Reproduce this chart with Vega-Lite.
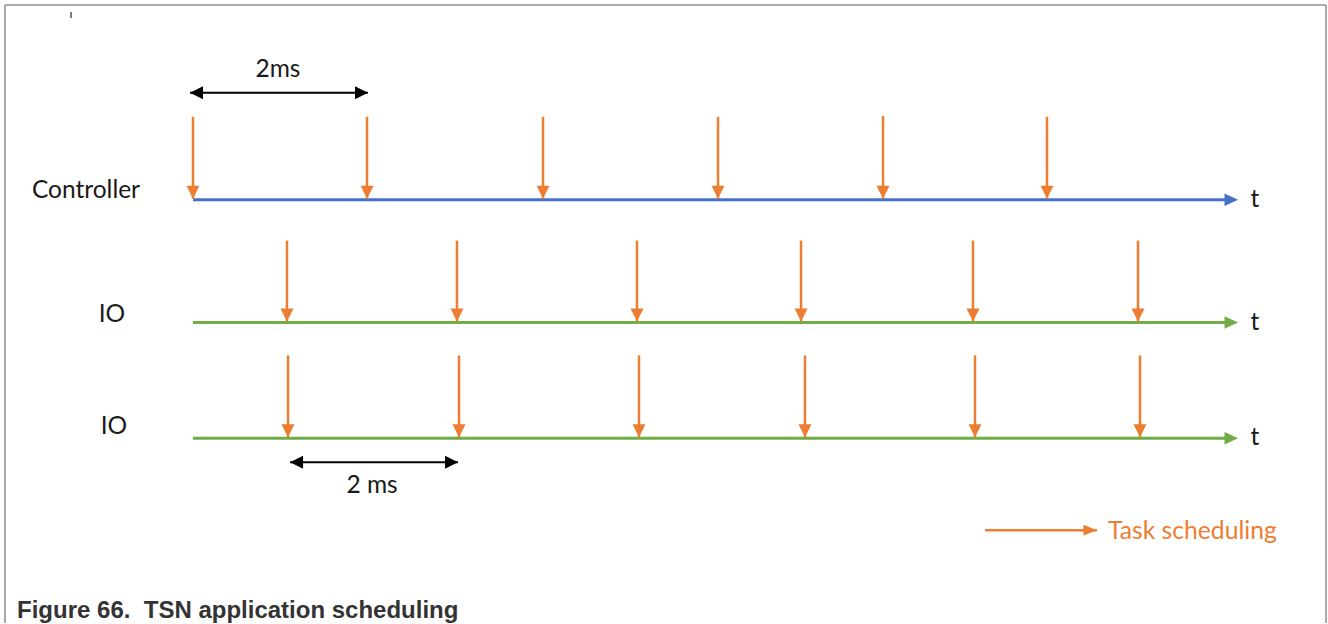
{
  "$schema": "https://vega.github.io/schema/vega-lite/v6.json",
  "width": 1328,
  "height": 624,
  "autosize": {"type": "fit", "contains": "padding"},
  "padding": 0,
  "background": "white",
  "config": {"view": {"stroke": null}, "text": {"font": "Lato"}},
  "datasets": {
    "border": [
      {"t0": -2.149, "t1": 12.949, "y0": 5, "y1": 5},
      {"t0": -2.149, "t1": -2.149, "y0": 5, "y1": 624},
      {"t0": 12.949, "t1": 12.949, "y0": 5, "y1": 624}
    ],
    "mark": [
      {"t0": -1.394, "t1": -1.394, "y0": 12, "y1": 18}
    ],
    "timelines": [
      {"lane": "Controller", "t0": 0, "t1": 11.80, "tend": 11.943, "y": 200},
      {"lane": "IO-1", "t0": 0, "t1": 11.80, "tend": 11.943, "y": 323},
      {"lane": "IO-2", "t0": 0, "t1": 11.80, "tend": 11.943, "y": 439}
    ],
    "tasks": [
      {"lane": "Controller", "t": 0.0, "top": 117, "tip": 199},
      {"lane": "Controller", "t": 1.989, "top": 117, "tip": 199},
      {"lane": "Controller", "t": 4.0, "top": 117, "tip": 199},
      {"lane": "Controller", "t": 6.0, "top": 117, "tip": 199},
      {"lane": "Controller", "t": 7.886, "top": 116, "tip": 199},
      {"lane": "Controller", "t": 9.76, "top": 117, "tip": 199},
      {"lane": "IO-1", "t": 1.074, "top": 241, "tip": 322},
      {"lane": "IO-1", "t": 3.017, "top": 241, "tip": 322},
      {"lane": "IO-1", "t": 5.074, "top": 241, "tip": 322},
      {"lane": "IO-1", "t": 6.949, "top": 241, "tip": 322},
      {"lane": "IO-1", "t": 8.914, "top": 241, "tip": 322},
      {"lane": "IO-1", "t": 10.8, "top": 241, "tip": 322},
      {"lane": "IO-2", "t": 1.086, "top": 356, "tip": 438},
      {"lane": "IO-2", "t": 3.04, "top": 356, "tip": 438},
      {"lane": "IO-2", "t": 5.097, "top": 356, "tip": 438},
      {"lane": "IO-2", "t": 6.994, "top": 356, "tip": 438},
      {"lane": "IO-2", "t": 8.937, "top": 356, "tip": 438},
      {"lane": "IO-2", "t": 10.823, "top": 356, "tip": 438}
    ],
    "dims": [
      {"t0": -0.034, "t1": 2.0, "y": 93},
      {"t0": 1.109, "t1": 3.029, "y": 463}
    ],
    "legendArrow": [
      {"t0": 9.051, "t1": 10.331, "y": 531}
    ],
    "labelsLeft": [
      {"t": -1.84, "y": 191, "text": "Controller"}
    ],
    "labelsCenter": [
      {"t": -0.926, "y": 316, "text": "IO"},
      {"t": -0.903, "y": 428, "text": "IO"},
      {"t": 0.971, "y": 70, "text": "2ms"},
      {"t": 2.046, "y": 487, "text": "2 ms"},
      {"t": 12.137, "y": 200, "text": "t"},
      {"t": 12.137, "y": 324, "text": "t"},
      {"t": 12.137, "y": 439, "text": "t"}
    ],
    "legendText": [
      {"t": 10.457, "y": 533, "text": "Task scheduling"}
    ],
    "caption": [
      {"t": -2.011, "y": 612, "text": "Figure 66.\u00a0 TSN application scheduling"}
    ]
  },
  "layer": [
    {
      "data": {"name": "border"},
      "mark": {"type": "rule", "color": "#8c8c8c", "strokeWidth": 1.5},
      "encoding": {
        "x": {"field": "t0", "type": "quantitative", "scale": {"domain": [-2.20571, 12.97143], "nice": false, "zero": false}, "axis": null},
        "x2": {"field": "t1"},
        "y": {"field": "y0", "type": "quantitative", "scale": {"domain": [0, 624], "reverse": true, "nice": false, "zero": false}, "axis": null},
        "y2": {"field": "y1"}
      }
    },
    {
      "data": {"name": "mark"},
      "mark": {"type": "rule", "color": "#555555", "strokeWidth": 1.5},
      "encoding": {
        "x": {"field": "t0", "type": "quantitative", "scale": {"domain": [-2.20571, 12.97143], "nice": false, "zero": false}, "axis": null},
        "x2": {"field": "t1"},
        "y": {"field": "y0", "type": "quantitative", "scale": {"domain": [0, 624], "reverse": true, "nice": false, "zero": false}, "axis": null},
        "y2": {"field": "y1"}
      }
    },
    {
      "data": {"name": "timelines"},
      "mark": {"type": "rule", "strokeWidth": 3},
      "encoding": {
        "x": {"field": "t0", "type": "quantitative", "scale": {"domain": [-2.20571, 12.97143], "nice": false, "zero": false}, "axis": null},
        "x2": {"field": "t1"},
        "y": {"field": "y", "type": "quantitative", "scale": {"domain": [0, 624], "reverse": true, "nice": false, "zero": false}, "axis": null},
        "color": {"field": "lane", "type": "nominal", "scale": {"domain": ["Controller", "IO-1", "IO-2"], "range": ["#4472C4", "#70AD47", "#70AD47"]}, "legend": null}
      }
    },
    {
      "data": {"name": "timelines"},
      "mark": {"type": "point", "shape": "M-1,-0.46L-1,0.46L0,0Z", "size": 729, "filled": true, "opacity": 1, "strokeWidth": 0},
      "encoding": {
        "x": {"field": "tend", "type": "quantitative", "scale": {"domain": [-2.20571, 12.97143], "nice": false, "zero": false}, "axis": null},
        "y": {"field": "y", "type": "quantitative", "scale": {"domain": [0, 624], "reverse": true, "nice": false, "zero": false}, "axis": null},
        "color": {"field": "lane", "type": "nominal", "scale": {"domain": ["Controller", "IO-1", "IO-2"], "range": ["#4472C4", "#70AD47", "#70AD47"]}, "legend": null}
      }
    },
    {
      "data": {"name": "tasks"},
      "mark": {"type": "rule", "color": "#ED7D31", "strokeWidth": 2.5},
      "encoding": {
        "x": {"field": "t", "type": "quantitative", "scale": {"domain": [-2.20571, 12.97143], "nice": false, "zero": false}, "axis": null},
        "y": {"field": "top", "type": "quantitative", "scale": {"domain": [0, 624], "reverse": true, "nice": false, "zero": false}, "axis": null},
        "y2": {"field": "tip"}
      }
    },
    {
      "data": {"name": "tasks"},
      "mark": {"type": "point", "shape": "M-0.5,-1L0.5,-1L0,0Z", "size": 676, "filled": true, "opacity": 1, "strokeWidth": 0, "color": "#ED7D31"},
      "encoding": {
        "x": {"field": "t", "type": "quantitative", "scale": {"domain": [-2.20571, 12.97143], "nice": false, "zero": false}, "axis": null},
        "y": {"field": "tip", "type": "quantitative", "scale": {"domain": [0, 624], "reverse": true, "nice": false, "zero": false}, "axis": null}
      }
    },
    {
      "data": {"name": "dims"},
      "mark": {"type": "rule", "color": "#000000", "strokeWidth": 2},
      "encoding": {
        "x": {"field": "t0", "type": "quantitative", "scale": {"domain": [-2.20571, 12.97143], "nice": false, "zero": false}, "axis": null},
        "x2": {"field": "t1"},
        "y": {"field": "y", "type": "quantitative", "scale": {"domain": [0, 624], "reverse": true, "nice": false, "zero": false}, "axis": null}
      }
    },
    {
      "data": {"name": "dims"},
      "mark": {"type": "point", "shape": "M1,-0.5L1,0.5L0,0Z", "size": 676, "filled": true, "opacity": 1, "strokeWidth": 0, "color": "#000000"},
      "encoding": {
        "x": {"field": "t0", "type": "quantitative", "scale": {"domain": [-2.20571, 12.97143], "nice": false, "zero": false}, "axis": null},
        "y": {"field": "y", "type": "quantitative", "scale": {"domain": [0, 624], "reverse": true, "nice": false, "zero": false}, "axis": null}
      }
    },
    {
      "data": {"name": "dims"},
      "mark": {"type": "point", "shape": "M-1,-0.5L-1,0.5L0,0Z", "size": 676, "filled": true, "opacity": 1, "strokeWidth": 0, "color": "#000000"},
      "encoding": {
        "x": {"field": "t1", "type": "quantitative", "scale": {"domain": [-2.20571, 12.97143], "nice": false, "zero": false}, "axis": null},
        "y": {"field": "y", "type": "quantitative", "scale": {"domain": [0, 624], "reverse": true, "nice": false, "zero": false}, "axis": null}
      }
    },
    {
      "data": {"name": "legendArrow"},
      "mark": {"type": "rule", "color": "#ED7D31", "strokeWidth": 2.5},
      "encoding": {
        "x": {"field": "t0", "type": "quantitative", "scale": {"domain": [-2.20571, 12.97143], "nice": false, "zero": false}, "axis": null},
        "x2": {"field": "t1"},
        "y": {"field": "y", "type": "quantitative", "scale": {"domain": [0, 624], "reverse": true, "nice": false, "zero": false}, "axis": null}
      }
    },
    {
      "data": {"name": "legendArrow"},
      "mark": {"type": "point", "shape": "M-1,-0.4L-1,0.4L0,0Z", "size": 729, "filled": true, "opacity": 1, "strokeWidth": 0, "color": "#ED7D31"},
      "encoding": {
        "x": {"field": "t1", "type": "quantitative", "scale": {"domain": [-2.20571, 12.97143], "nice": false, "zero": false}, "axis": null},
        "y": {"field": "y", "type": "quantitative", "scale": {"domain": [0, 624], "reverse": true, "nice": false, "zero": false}, "axis": null}
      }
    },
    {
      "data": {"name": "labelsLeft"},
      "mark": {"type": "text", "align": "left", "baseline": "middle", "fontSize": 24.5, "color": "#1a1a1a"},
      "encoding": {
        "x": {"field": "t", "type": "quantitative", "scale": {"domain": [-2.20571, 12.97143], "nice": false, "zero": false}, "axis": null},
        "y": {"field": "y", "type": "quantitative", "scale": {"domain": [0, 624], "reverse": true, "nice": false, "zero": false}, "axis": null},
        "text": {"field": "text"}
      }
    },
    {
      "data": {"name": "labelsCenter"},
      "mark": {"type": "text", "align": "center", "baseline": "middle", "fontSize": 24.5, "color": "#1a1a1a"},
      "encoding": {
        "x": {"field": "t", "type": "quantitative", "scale": {"domain": [-2.20571, 12.97143], "nice": false, "zero": false}, "axis": null},
        "y": {"field": "y", "type": "quantitative", "scale": {"domain": [0, 624], "reverse": true, "nice": false, "zero": false}, "axis": null},
        "text": {"field": "text"}
      }
    },
    {
      "data": {"name": "legendText"},
      "mark": {"type": "text", "align": "left", "baseline": "middle", "fontSize": 24.7, "color": "#ED7D31"},
      "encoding": {
        "x": {"field": "t", "type": "quantitative", "scale": {"domain": [-2.20571, 12.97143], "nice": false, "zero": false}, "axis": null},
        "y": {"field": "y", "type": "quantitative", "scale": {"domain": [0, 624], "reverse": true, "nice": false, "zero": false}, "axis": null},
        "text": {"field": "text"}
      }
    },
    {
      "data": {"name": "caption"},
      "mark": {"type": "text", "align": "left", "baseline": "middle", "fontSize": 24, "font": "Liberation Sans", "fontWeight": "bold", "color": "#333333"},
      "encoding": {
        "x": {"field": "t", "type": "quantitative", "scale": {"domain": [-2.20571, 12.97143], "nice": false, "zero": false}, "axis": null},
        "y": {"field": "y", "type": "quantitative", "scale": {"domain": [0, 624], "reverse": true, "nice": false, "zero": false}, "axis": null},
        "text": {"field": "text"}
      }
    }
  ]
}
